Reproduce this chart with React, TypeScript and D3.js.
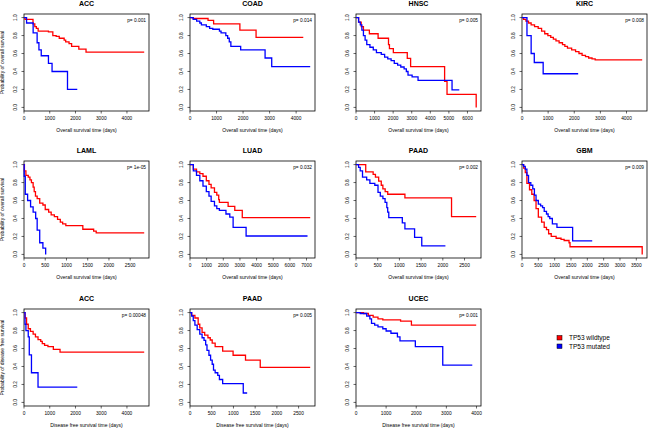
import React from "react";
import * as d3 from "d3";

type Pt = [number, number];

// ---- data (time in days, survival probability) ----
const ACC_OS_WT: Pt[] = [[0,1],[40,0.98],[350,0.93],[420,0.90],[480,0.88],[550,0.85],[950,0.84],[1120,0.80],[1250,0.79],[1370,0.77],[1560,0.75],[1620,0.73],[1750,0.71],[1850,0.68],[2130,0.65],[2410,0.615],[4670,0.615]];
const ACC_OS_MUT: Pt[] = [[0,1],[100,0.94],[355,0.83],[510,0.72],[580,0.64],[670,0.575],[950,0.49],[1090,0.40],[1690,0.20],[2070,0.20]];
const COAD_OS_WT: Pt[] = [[0,1],[120,0.99],[680,0.97],[890,0.93],[1880,0.86],[2490,0.78],[4270,0.78]];
const COAD_OS_MUT: Pt[] = [[0,1],[120,0.98],[250,0.96],[370,0.94],[430,0.92],[615,0.90],[740,0.88],[860,0.87],[1110,0.85],[1170,0.83],[1350,0.80],[1420,0.77],[1480,0.73],[1540,0.68],[1910,0.64],[2830,0.55],[3080,0.455],[4530,0.455]];
const HNSC_OS_WT: Pt[] = [[0,1],[140,0.95],[280,0.90],[400,0.86],[720,0.82],[1190,0.77],[1750,0.70],[1800,0.655],[2010,0.61],[2760,0.545],[2940,0.455],[4770,0.29],[4900,0.145],[6470,0]];
const HNSC_OS_MUT: Pt[] = [[0,1],[140,0.95],[230,0.92],[315,0.86],[400,0.80],[490,0.75],[580,0.70],[750,0.67],[930,0.64],[1100,0.61],[1360,0.59],[1540,0.56],[1710,0.54],[1890,0.52],[2060,0.49],[2240,0.47],[2410,0.45],[2590,0.43],[2710,0.40],[2800,0.36],[3020,0.34],[3340,0.30],[5170,0.195],[5560,0.195]];
const KIRC_OS_WT: Pt[] = [[0,1],[60,0.98],[150,0.96],[250,0.94],[350,0.92],[480,0.90],[620,0.88],[750,0.85],[870,0.82],[990,0.80],[1100,0.78],[1200,0.76],[1300,0.74],[1420,0.72],[1550,0.70],[1640,0.68],[1740,0.66],[1900,0.64],[2050,0.62],[2180,0.60],[2300,0.58],[2430,0.565],[2550,0.55],[2680,0.54],[2800,0.53],[4600,0.53]];
const KIRC_OS_MUT: Pt[] = [[0,1],[190,0.80],[350,0.60],[470,0.50],[810,0.375],[2150,0.375]];
const LAML_OS_WT: Pt[] = [[0,1],[10,0.93],[45,0.88],[100,0.86],[140,0.83],[175,0.80],[215,0.75],[240,0.70],[270,0.65],[310,0.62],[370,0.57],[445,0.55],[500,0.50],[580,0.47],[640,0.44],[715,0.42],[790,0.39],[855,0.36],[910,0.34],[985,0.32],[1385,0.28],[1640,0.26],[1700,0.24],[2830,0.24]];
const LAML_OS_MUT: Pt[] = [[0,1],[5,0.87],[30,0.67],[85,0.60],[155,0.53],[215,0.47],[275,0.40],[310,0.27],[370,0.13],[445,0.07],[510,0]];
const LUAD_OS_WT: Pt[] = [[0,1],[200,0.95],[390,0.92],[590,0.90],[780,0.87],[980,0.82],[1140,0.78],[1270,0.74],[1470,0.69],[1610,0.66],[1725,0.61],[1765,0.58],[2290,0.535],[2690,0.49],[3140,0.41],[7220,0.41]];
const LUAD_OS_MUT: Pt[] = [[0,1],[200,0.93],[390,0.88],[590,0.82],[780,0.76],[980,0.70],[1140,0.65],[1270,0.59],[1470,0.54],[1610,0.51],[1765,0.49],[2160,0.45],[2390,0.415],[2590,0.30],[3370,0.205],[7060,0.205]];
const PAAD_OS_WT: Pt[] = [[0,1],[224,0.92],[395,0.89],[448,0.86],[522,0.815],[582,0.77],[619,0.73],[672,0.70],[731,0.67],[1127,0.63],[2201,0.42],[2769,0.42]];
const PAAD_OS_MUT: Pt[] = [[0,1],[60,0.97],[97,0.93],[150,0.86],[246,0.83],[320,0.79],[433,0.77],[507,0.69],[560,0.65],[620,0.62],[670,0.58],[710,0.52],[730,0.47],[755,0.41],[1067,0.35],[1127,0.285],[1350,0.19],[1515,0.095],[2060,0.095]];
const GBM_OS_WT: Pt[] = [[0,1],[50,0.96],[100,0.91],[150,0.79],[230,0.72],[300,0.67],[370,0.60],[430,0.51],[500,0.415],[600,0.36],[680,0.30],[750,0.275],[815,0.23],[895,0.20],[1045,0.18],[1195,0.167],[1290,0.155],[1440,0.13],[1470,0.085],[3680,0]];
const GBM_OS_MUT: Pt[] = [[0,1],[50,0.98],[100,0.95],[150,0.88],[200,0.80],[270,0.77],[330,0.73],[380,0.66],[430,0.60],[500,0.56],[570,0.54],[630,0.52],[680,0.48],[750,0.45],[800,0.42],[850,0.40],[930,0.34],[1070,0.30],[1550,0.15],[2150,0.15]];
const ACC_DFS_WT: Pt[] = [[0,1],[40,0.94],[100,0.87],[165,0.82],[250,0.79],[355,0.76],[445,0.73],[545,0.70],[650,0.68],[710,0.655],[800,0.635],[930,0.62],[1140,0.59],[1400,0.56],[4670,0.56]];
const ACC_DFS_MUT: Pt[] = [[0,1],[40,0.87],[75,0.80],[165,0.73],[205,0.53],[290,0.33],[545,0.17],[2070,0.17]];
const PAAD_DFS_WT: Pt[] = [[0,1],[38,0.97],[113,0.94],[188,0.87],[225,0.83],[278,0.78],[338,0.75],[413,0.72],[466,0.695],[511,0.66],[579,0.62],[752,0.57],[992,0.525],[1278,0.47],[1617,0.39],[2767,0.39]];
const PAAD_DFS_MUT: Pt[] = [[0,1],[38,0.96],[75,0.91],[113,0.86],[165,0.81],[225,0.76],[278,0.72],[323,0.69],[361,0.64],[391,0.58],[436,0.525],[474,0.47],[511,0.425],[541,0.36],[579,0.33],[639,0.30],[677,0.255],[752,0.21],[1226,0.105],[1316,0.105]];
const UCEC_DFS_WT: Pt[] = [[0,1],[250,0.99],[410,0.97],[570,0.95],[730,0.93],[890,0.92],[1480,0.905],[1840,0.86],[3990,0.86]];
const UCEC_DFS_MUT: Pt[] = [[0,1],[140,0.99],[355,0.96],[460,0.93],[515,0.88],[620,0.86],[730,0.84],[890,0.82],[1000,0.795],[1160,0.77],[1375,0.73],[1460,0.685],[1970,0.62],[2880,0.415],[3860,0.415]];

const TITLES = ["ACC","COAD","HNSC","KIRC","LAML","LUAD","PAAD","GBM","ACC","PAAD","UCEC"];
const PVALUES = ["p= 0.001","p= 0.014","p= 0.005","p= 0.008","p= 1e-05","p= 0.032","p= 0.002","p= 0.009","p= 0.00048","p= 0.005","p= 0.001"];
const TICK_MAX = [4000,4000,6000,4000,2500,7000,2500,3500,4000,2500,4000];
const TICK_STEP = [1000,1000,1000,1000,500,1000,500,500,1000,500,1000];
const WILDTYPE = [ACC_OS_WT,COAD_OS_WT,HNSC_OS_WT,KIRC_OS_WT,LAML_OS_WT,LUAD_OS_WT,PAAD_OS_WT,GBM_OS_WT,ACC_DFS_WT,PAAD_DFS_WT,UCEC_DFS_WT];
const MUTATED = [ACC_OS_MUT,COAD_OS_MUT,HNSC_OS_MUT,KIRC_OS_MUT,LAML_OS_MUT,LUAD_OS_MUT,PAAD_OS_MUT,GBM_OS_MUT,ACC_DFS_MUT,PAAD_DFS_MUT,UCEC_DFS_MUT];
const Y_TICKS = [0, 0.2, 0.4, 0.6, 0.8, 1.0];
const LEGEND = ["TP53 wildtype", "TP53 mutated"];
const COLORS = ["#ff0000", "#0000ff"];

const COL_X = [24, 190, 356, 522];
const ROW_Y = [14, 161, 309];
const PW = 125;
const PH = 97;
const FONT = "'Liberation Sans', Arial, Helvetica, sans-serif";

function Panel({ i }: { i: number }) {
  const row = Math.floor(i / 4);
  const col = i % 4;
  const x0 = COL_X[col];
  const y0 = ROW_Y[row];
  const wt = WILDTYPE[i];
  const mut = MUTATED[i];
  const maxT = Math.max(d3.max(wt, (d) => d[0])!, d3.max(mut, (d) => d[0])!);
  const x = d3.scaleLinear().domain([0, maxT * 1.04]).range([x0, x0 + PW]);
  const y = d3.scaleLinear().domain([-0.04, 1.04]).range([y0 + PH, y0]);
  const line = d3.line<Pt>().x((d) => x(d[0])).y((d) => y(d[1])).curve(d3.curveStepAfter);
  const xt = d3.range(0, TICK_MAX[i] + 1, TICK_STEP[i]);
  const bottom = y0 + PH;
  const isDfs = row === 2;
  return (
    <g>
      <text x={x0 + PW / 2} y={y0 - 8} textAnchor="middle" fontSize={7} fontWeight="bold" fontFamily={FONT}>{TITLES[i]}</text>
      <rect x={x0} y={y0} width={PW} height={PH} fill="none" stroke="#000" strokeWidth={0.8} />
      {xt.map((t) => (
        <g key={"x" + t}>
          <line x1={x(t)} x2={x(t)} y1={bottom} y2={bottom + 2.5} stroke="#000" strokeWidth={0.6} />
          <text x={x(t)} y={bottom + 9} textAnchor="middle" fontSize={4.8} fontFamily={FONT}>{t}</text>
        </g>
      ))}
      {Y_TICKS.map((v) => (
        <g key={"y" + v}>
          <line x1={x0 - 2.5} x2={x0} y1={y(v)} y2={y(v)} stroke="#000" strokeWidth={0.6} />
          <text transform={`translate(${x0 - 7},${y(v)}) rotate(-90)`} textAnchor="middle" fontSize={4.8} fontFamily={FONT}>{v.toFixed(1)}</text>
        </g>
      ))}
      <text x={x0 + PW / 2} y={bottom + 21} textAnchor="middle" fontSize={5} fontFamily={FONT}>
        {isDfs ? "Disease free survival time (days)" : "Overall survival time (days)"}
      </text>
      {col === 0 && (
        <text transform={`translate(${x0 - 20},${y0 + PH / 2}) rotate(-90)`} textAnchor="middle" fontSize={5} fontFamily={FONT}>
          {isDfs ? "Probability of disease free survival" : "Probability of overall survival"}
        </text>
      )}
      <text x={x0 + PW - 3} y={y0 + 8} textAnchor="end" fontSize={4.8} fontFamily={FONT}>{PVALUES[i]}</text>
      <path d={line(wt) || ""} fill="none" stroke={COLORS[0]} strokeWidth={1.3} />
      <path d={line(mut) || ""} fill="none" stroke={COLORS[1]} strokeWidth={1.3} />
    </g>
  );
}

export default function App() {
  return (
    <svg width={650} height={430} style={{ position: "absolute", left: 0, top: 0, background: "#fff" }}>
      <rect width={650} height={430} fill="#fff" />
      {TITLES.map((_, i) => <Panel key={i} i={i} />)}
      {LEGEND.map((l, k) => (
        <g key={l}>
          <rect x={557} y={335.5 + k * 8.5} width={5} height={4.5} fill={COLORS[k]} stroke="#000" strokeWidth={0.5} />
          <text x={569} y={340.3 + k * 8.5} fontSize={6.5} fontFamily={FONT}>{l}</text>
        </g>
      ))}
    </svg>
  );
}
